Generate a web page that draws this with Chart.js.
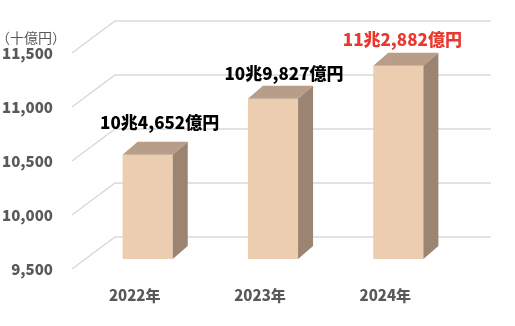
<!DOCTYPE html>
<html>
<head>
<meta charset="utf-8">
<script src="https://cdn.jsdelivr.net/npm/chart.js@4.4.0/dist/chart.umd.min.js"></script>
<style>
  body { margin: 0; background: #fff; }
  canvas { display: block; }
</style>
</head>
<body>
<canvas id="myChart" width="515" height="326"></canvas>
<script>
// data (売上高, 億円)
const years = ['2022年', '2023年', '2024年'];
const salesOku = [104652, 109827, 112882];
const yTicks = [9500, 10000, 10500, 11000, 11500];
const unitLabel = '（十億円）';

// chart is plotted in 十億円
const salesJuoku = salesOku.map(v => v / 10);

const FONT = "'Noto Sans CJK JP', sans-serif";
const labelColors = ['#000000', '#000000', '#E8382F'];
// nudge of each value label from the bar's top centre
const labelNudge = [[12, -32], [11, -25], [4, -26]];

// 3d look
const BAR_DEPTH = [15, -13];
const TO_FRONT = [-13, 10];
const TO_BACK = [30, -22];

function fmtOku(v) {
  let cho = Math.floor(v / 10000);
  let oku = v % 10000;
  return cho + '兆' + oku.toLocaleString('en-US') + '億円';
}

const threeD = {
  id: 'threeD',
  beforeDatasetsDraw(chart) {
    const ctx = chart.ctx;
    const y = chart.scales.y;
    const area = chart.chartArea;
    ctx.save();
    ctx.strokeStyle = '#d9d9d9';
    ctx.lineWidth = 1.5;
    yTicks.forEach(v => {
      let py = y.getPixelForValue(v);
      ctx.beginPath();
      ctx.moveTo(area.left + TO_FRONT[0], py + TO_FRONT[1]);
      ctx.lineTo(area.left + TO_BACK[0], py + TO_BACK[1]);
      ctx.lineTo(area.right + TO_BACK[0], py + TO_BACK[1]);
      ctx.stroke();
    });
    ctx.fillStyle = '#595959';
    ctx.font = '14px ' + FONT;
    ctx.textAlign = 'left';
    ctx.textBaseline = 'middle';
    ctx.fillText(unitLabel, -4, 38);
    ctx.restore();
  },
  afterDatasetsDraw(chart) {
    const ctx = chart.ctx;
    const meta = chart.getDatasetMeta(0);
    const [dx, dy] = BAR_DEPTH;
    const floor = chart.scales.y.getPixelForValue(chart.scales.y.min);
    ctx.save();
    meta.data.forEach((bar, i) => {
      let x1 = bar.x - bar.width / 2;
      let x2 = bar.x + bar.width / 2;
      let top = bar.y, bottom = Math.min(bar.base, floor);

      // top face
      ctx.fillStyle = '#b89d88';
      ctx.beginPath();
      ctx.moveTo(x1, top);
      ctx.lineTo(x2, top);
      ctx.lineTo(x2 + dx, top + dy);
      ctx.lineTo(x1 + dx, top + dy);
      ctx.closePath();
      ctx.fill();

      // side face
      ctx.fillStyle = '#9b8471';
      ctx.beginPath();
      ctx.moveTo(x2, top);
      ctx.lineTo(x2 + dx, top + dy);
      ctx.lineTo(x2 + dx, bottom + dy);
      ctx.lineTo(x2, bottom);
      ctx.closePath();
      ctx.fill();

      // value label
      ctx.fillStyle = labelColors[i];
      ctx.font = '900 17px ' + FONT;
      ctx.textAlign = 'center';
      ctx.textBaseline = 'middle';
      ctx.fillText(fmtOku(salesOku[i]), bar.x + labelNudge[i][0], top + labelNudge[i][1]);
    });
    ctx.restore();
  }
};

const ctx = document.getElementById('myChart');
new Chart(ctx, {
  type: 'bar',
  data: {
    labels: years,
    datasets: [{
      data: salesJuoku,
      backgroundColor: '#eccdaf',
      borderWidth: 0,
      categoryPercentage: 1,
      barPercentage: 0.4
    }]
  },
  options: {
    responsive: false,
    animation: false,
    layout: { padding: { top: 43, right: 54, left: 0, bottom: 0 } },
    plugins: { legend: { display: false }, tooltip: { enabled: false } },
    scales: {
      x: {
        grid: { display: false, drawTicks: false },
        border: { display: false },
        ticks: { padding: 27, labelOffset: -13, color: '#595959', font: { family: FONT, size: 15, weight: '900' } },
        afterFit(s) { s.height = 67; }
      },
      y: {
        min: 9500,
        max: 11500,
        afterBuildTicks(s) { s.ticks = yTicks.map(v => ({ value: v })); },
        grid: { display: false, drawTicks: false },
        border: { display: false },
        ticks: {
          padding: 32,
          labelOffset: 10,
          color: '#595959',
          font: { family: FONT, size: 15, weight: '900' },
          callback: v => v.toLocaleString('en-US')
        },
        afterFit(s) { s.width = 85; }
      }
    }
  },
  plugins: [threeD]
});
</script>
</body>
</html>
